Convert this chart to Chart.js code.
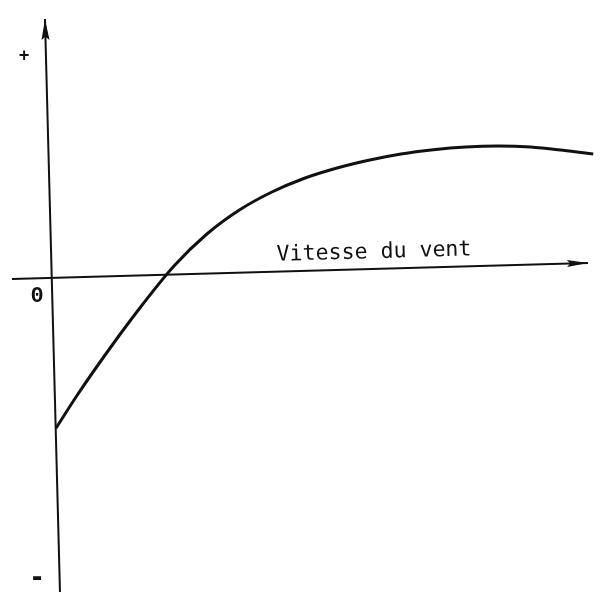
<!DOCTYPE html>
<html>
<head>
<meta charset="utf-8">
<script src="https://cdn.jsdelivr.net/npm/chart.js@4/dist/chart.umd.min.js"></script>
<style>
  html, body { margin: 0; padding: 0; background: #ffffff; }
  #wrap { width: 603px; height: 607px; }
</style>
</head>
<body>
<div id="wrap"><canvas id="c" width="603" height="607"></canvas></div>
<script>
// ---- data (arbitrary units) ----
const windSpeed = [1.1, 5, 11, 17, 23, 29, 35, 41, 47, 53, 59, 65, 71, 77, 83, 89, 95, 100.6];
const response  = [-60.1, -47.0, -28.4, -11.0, 4.9, 17.5, 27.1, 34.3, 39.8, 43.9, 47.1, 49.6, 51.3, 52.4, 52.8, 52.4, 51.1, 49.6];
// axis lines (as drawn in the scan, slightly tilted)
const xAxisX = [-7.04, 99.63];
const xAxisY = [-0.4, 6.0];
const yAxisX = [1.85, -0.93];
const yAxisY = [-125.6, 103.6];
const axisTitle = 'Vitesse du vent';
const signLabels = ['+', '0', '-'];

const toPts = (xs, ys) => xs.map((v, i) => ({ x: v, y: ys[i] }));

const annotate = {
  id: 'annotate',
  afterDatasetsDraw(chart) {
    const ctx = chart.ctx;
    const sx = chart.scales.x, sy = chart.scales.y;
    const P = (x, y) => [sx.getPixelForValue(x), sy.getPixelForValue(y)];
    ctx.save();
    ctx.fillStyle = '#111';
    // arrowheads
    const arrow = (xs, ys, len, half) => {
      const [x0, y0] = P(xs[0], ys[0]);
      const [x1, y1] = P(xs[1], ys[1]);
      const a = Math.atan2(y1 - y0, x1 - x0);
      ctx.save();
      ctx.translate(x1, y1);
      ctx.rotate(a);
      ctx.beginPath();
      ctx.moveTo(0, 0);
      ctx.lineTo(-len, -half);
      ctx.lineTo(-len * 0.85, 0);
      ctx.lineTo(-len, half);
      ctx.closePath();
      ctx.fill();
      ctx.restore();
    };
    arrow(xAxisX, xAxisY, 21, 3.5);
    arrow(yAxisX, yAxisY, 21, 4);

    // sign labels
    ctx.textAlign = 'center';
    ctx.textBaseline = 'middle';
    ctx.font = 'bold 17px "DejaVu Sans Mono"';
    let p = P(-4.8, 88.4);
    ctx.fillText(signLabels[0], p[0], p[1]);
    ctx.font = 'bold 22px "Liberation Mono"';
    p = P(-2.4, -7.2);
    ctx.fillText(signLabels[1], p[0], p[1]);
    ctx.font = 'bold 26px "DejaVu Sans Mono"';
    p = P(-2.4, -120.4);
    ctx.fillText(signLabels[2], p[0], p[1]);

    // axis title, following the axis tilt
    const [ax0, ay0] = P(xAxisX[0], xAxisY[0]);
    const [ax1, ay1] = P(xAxisX[1], xAxisY[1]);
    const ang = Math.atan2(ay1 - ay0, ax1 - ax0);
    p = P(60.0, 10.2);
    ctx.save();
    ctx.translate(p[0], p[1]);
    ctx.rotate(ang);
    ctx.font = '21.6px "DejaVu Sans Mono"';
    ctx.fillText(axisTitle, 0, 0);
    ctx.restore();
    ctx.restore();
  }
};

new Chart(document.getElementById('c'), {
  type: 'scatter',
  data: {
    datasets: [
      {
        data: toPts(xAxisX, xAxisY),
        showLine: true, borderColor: '#111', borderWidth: 2, pointRadius: 0, tension: 0
      },
      {
        data: toPts(yAxisX, yAxisY),
        showLine: true, borderColor: '#111', borderWidth: 2, pointRadius: 0, tension: 0
      },
      {
        data: toPts(windSpeed, response),
        showLine: true, borderColor: '#111', borderWidth: 3, pointRadius: 0,
        cubicInterpolationMode: 'monotone'
      }
    ]
  },
  options: {
    responsive: false,
    animation: false,
    devicePixelRatio: 1,
    layout: { padding: 0 },
    plugins: { legend: { display: false }, tooltip: { enabled: false } },
    scales: {
      x: { type: 'linear', display: false, min: -9.259, max: 102.41 },
      y: { type: 'linear', display: false, min: -131.6, max: 111.2 }
    }
  },
  plugins: [annotate]
});
</script>
</body>
</html>
